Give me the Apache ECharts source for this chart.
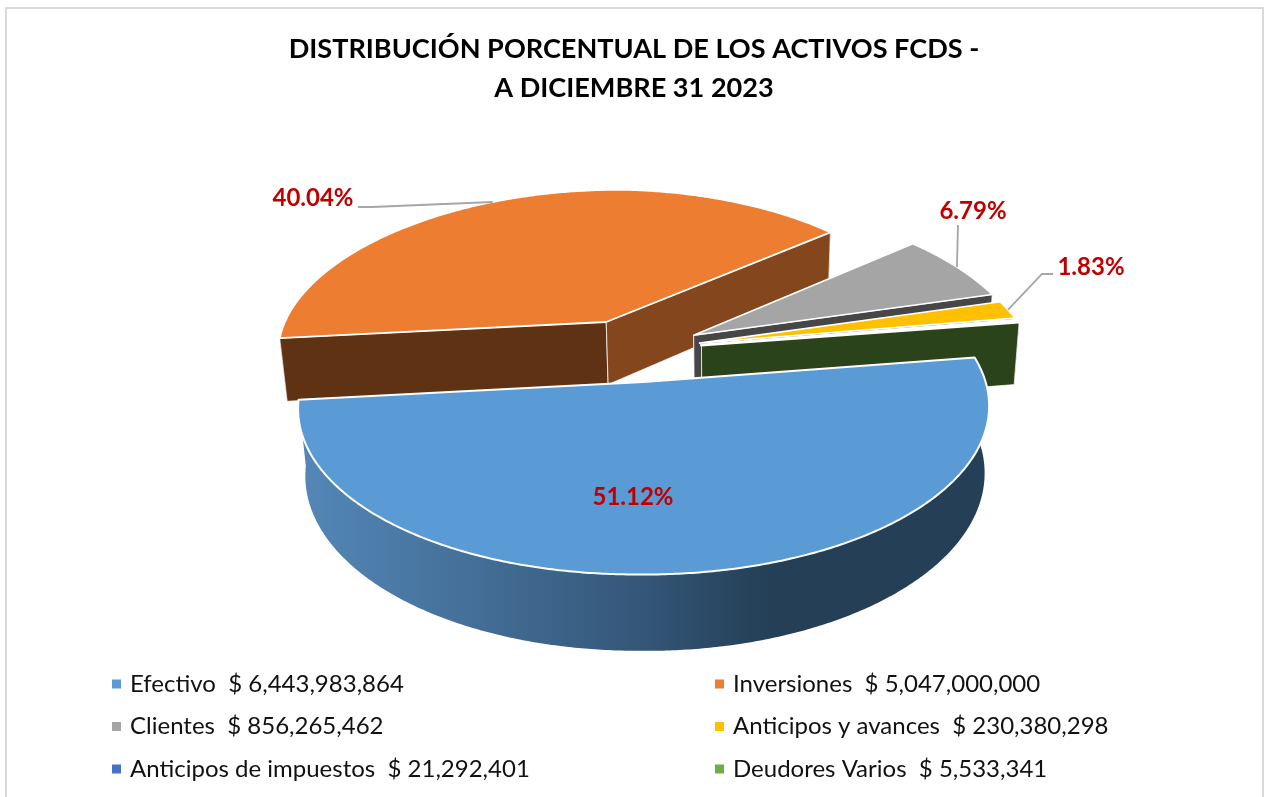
<!DOCTYPE html>
<html><head><meta charset="utf-8">
<style>html,body{margin:0;padding:0;background:#fff}#c{width:1264px;height:797px}</style>
<script src="https://cdn.jsdelivr.net/npm/echarts@6/dist/echarts.min.js"></script>
</head><body><div id="c"></div>
<script>
// ---- data ----
const categories = ['Efectivo','Inversiones','Clientes','Anticipos y avances','Anticipos de impuestos','Deudores Varios'];
const amounts = [6443983864, 5047000000, 856265462, 230380298, 21292401, 5533341];
const titleLines = ['DISTRIBUCIÓN PORCENTUAL DE LOS ACTIVOS FCDS -','A DICIEMBRE 31 2023'];
// ---- styles ----
const topColors = ['#5b9bd5','#ed7d31','#a5a5a5','#ffc000','#4472c4','#70ad47'];
const endWallColors = [null,'#84461c','#464646',null,null,'#2b431b'];
const startWallColors = [null,'#5f3214','#525252',null,null,'#2b431b'];
const rimFills = [
 {type:'linear',x:0,y:0,x2:1,y2:0,colorStops:[{offset:0,color:'#5488b8'},{offset:.5,color:'#345678'},{offset:.68,color:'#243f56'},{offset:1,color:'#243f56'}]},
 '#5f3214','#464646','#7f6000','#223962','#2b431b'];
const topStroke = [2,1.8,1.6,1.6,2.6,2.6];
const drawOrder = [1,2,3,4,5,0];
const sliceNudgeX = [1.5,-3,2,1,2,2];
// ---- 3D projection parameters ----
const P = {cx:634,cy:350,rx:333,ry:157,k:0.135,kxFar:0.17,h:64,shrink:0.983,explode:0.2,startDeg:8.7,leftDrop:0.012,bottomDx:1.5};
const labelLayout = {
 0:{x:633,y:497},
 1:{x:313,y:198,rimDeg:2,elbow:[[358,207],[372,207]]},
 2:{x:973,y:211,rimDeg:0,elbow:[[958,225]]},
 3:{x:1091,y:267,rimDeg:0,elbow:[[1053,274],[1042,274]]}
};
const total = amounts.reduce((a,b)=>a+b,0);
const slices = []; let acc = P.startDeg;
amounts.forEach(v=>{const sweep=v/total*360; slices.push({from:acc,to:acc-sweep,mid:acc-sweep/2}); acc-=sweep;});
const rad = d=>d*Math.PI/180;
function proj(u,v,bottom,nudge){
  const w=1+P.k*v, wx=1+(v>0?P.kxFar:P.k)*v; let x=P.rx*u/wx, y=-P.ry*v/w;
  if(x<0) y+=P.leftDrop*(-x);
  if(bottom){x=x*P.shrink+P.bottomDx; y+=P.h/w;}
  return [P.cx+x+nudge,P.cy+y];
}
function worldRim(s,deg){const c=apex(s);
  return [c[0]+Math.cos(rad(deg)),c[1]+Math.sin(rad(deg))];}
function apex(s){return [P.explode*Math.cos(rad(s.mid)),P.explode*Math.sin(rad(s.mid))];}
function arc(s,bottom,nudge){const n=Math.max(2,Math.ceil((s.from-s.to)*2)),pts=[];
  for(let i=0;i<=n;i++){const d=s.from+(s.to-s.from)*i/n,p=worldRim(s,d);pts.push(proj(p[0],p[1],bottom,nudge));}
  return pts;}
function poly(points,fill,stroke,lw){return {type:'polygon',shape:{points},style:{fill,stroke:stroke||null,lineWidth:lw||0,lineJoin:'round'}};}
function makeRender(i){return function(params,api){
  const value=api.value(0), s=slices[i], a=apex(s), n=sliceNudgeX[i];
  const A=proj(a[0],a[1],false,n),Ab=proj(a[0],a[1],true,n);
  const top=arc(s,false,n),bot=arc(s,true,n);
  const ch=[];
  ch.push(poly(top.concat(bot.slice().reverse()),rimFills[i]));
  const e=top.length-1;
  if(startWallColors[i]) ch.push(poly([A,top[0],bot[0],Ab],startWallColors[i],'rgba(255,255,255,.75)',1));
  if(endWallColors[i]) ch.push(poly([A,top[e],bot[e],Ab],endWallColors[i],'rgba(255,255,255,.75)',1));
  ch.push(poly([A].concat(top),topColors[i],'#fff',topStroke[i]));
  const lay=labelLayout[i];
  if(lay){
    if(lay.elbow){const m=worldRim(s,s.mid+lay.rimDeg);
      const pts=lay.elbow.concat([proj(m[0],m[1],false,n)]);
      ch.push({type:'polyline',shape:{points:pts},style:{stroke:'#a6a6a6',lineWidth:1.8,fill:null}});}
    ch.push({type:'text',x:lay.x,y:lay.y,z2:5,style:{text:(value/total*100).toFixed(2)+'%',fill:'#c00000',
      font:'bold 24px Lato',align:'center',verticalAlign:'middle'}});
  }
  return {type:'group',children:ch};
};}
const names = categories.map((c,i)=>c+'  $ '+amounts[i].toLocaleString('en-US'));
const series = categories.map((c,i)=>({
  type:'custom',name:names[i],coordinateSystem:'none',silent:true,
  z:2+drawOrder.indexOf(i),itemStyle:{color:topColors[i]},
  renderItem:makeRender(i),data:[{value:[amounts[i]]}],animation:false,clip:false
}));
const legendBase={orient:'vertical',icon:'rect',itemWidth:9,itemHeight:9,itemGap:18.5,top:667,
  textStyle:{fontFamily:'Lato',fontSize:24,color:'#111',padding:[0,0,0,4]}};
const chart=echarts.init(document.getElementById('c'),null,{renderer:'canvas'});
chart.setOption({
  backgroundColor:'#fff',animation:false,
  title:{text:titleLines.join('\n'),left:629,top:25,textAlign:'center',
    textStyle:{fontFamily:'Lato',fontWeight:'bold',fontSize:27.1,lineHeight:39,color:'#000'}},
  legend:[
    Object.assign({},legendBase,{left:107,data:[names[0],names[2],names[4]]}),
    Object.assign({},legendBase,{left:710,data:[names[1],names[3],names[5]]})
  ],
  graphic:[{type:'polyline',silent:true,shape:{points:[[6,797],[6,8],[1263,8],[1263,797]]},style:{stroke:'#d9d9d9',lineWidth:2,fill:null}}],
  series
});
</script></body></html>
